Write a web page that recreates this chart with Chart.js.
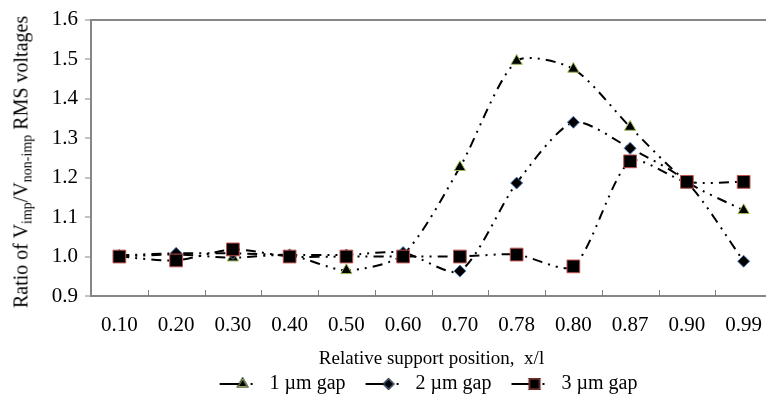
<!DOCTYPE html>
<html>
<head>
<meta charset="utf-8">
<script src="https://cdn.jsdelivr.net/npm/chart.js@4.4.1/dist/chart.umd.min.js"></script>
<style>
  body { margin: 0; background: #fff; overflow: hidden; }
  #wrap { position: relative; width: 782px; height: 404px; }
  #yTitle {
    position: absolute; left: 21px; top: 162px;
    transform: translate(-50%, -50%) rotate(-90deg);
    white-space: nowrap;
    font-family: "Liberation Serif", "Times New Roman", serif;
    font-size: 20px; color: #000;
  }
  #yTitle sub { font-size: 14px; vertical-align: -4px; line-height: 0; }
</style>
</head>
<body>
<div id="wrap">
  <canvas id="chart" width="782" height="404"></canvas>
  <div id="yTitle">Ratio of V<sub>imp</sub>/V<sub>non-imp</sub> RMS voltages</div>
</div>
<script>
const positions = ["0.10", "0.20", "0.30", "0.40", "0.50", "0.60", "0.70", "0.78", "0.80", "0.87", "0.90", "0.99"];
const gap1 = [1.00, 1.005, 0.997, 1.003, 0.965, 1.005, 1.226, 1.495, 1.475, 1.328, 1.19, 1.117];
const gap2 = [1.003, 1.008, 1.008, 1.004, 1.004, 1.01, 0.963, 1.186, 1.34, 1.274, 1.188, 0.988];
const gap3 = [1.00, 0.99, 1.018, 1.00, 1.00, 1.00, 1.00, 1.005, 0.975, 1.241, 1.189, 1.189];
const seriesNames = ["1 \u00b5m gap", "2 \u00b5m gap", "3 \u00b5m gap"];

const SERIF = "'Liberation Serif', 'Times New Roman', serif";
const DASH = [10, 6, 2, 6, 2, 6];

const markers = [
  { style: "triangle", radius: 6.5, edge: "#9bbb59" },
  { style: "rectRot", radius: 6, edge: "#4f81bd" },
  { style: "rect", radius: 9, edge: "#c0504d" },
];

// "line + marker + dot" swatch for the legend, blank on the left for spacing
function legendSwatch(m) {
  const c = document.createElement("canvas");
  c.width = 56; c.height = 16;
  const g = c.getContext("2d");
  const x0 = 16;
  g.strokeStyle = "#000"; g.lineWidth = 2;
  g.beginPath(); g.moveTo(x0, 8); g.lineTo(x0 + 22, 8); g.stroke();
  g.fillStyle = "#000";
  g.fillRect(x0 + 31, 7, 2, 2);
  Chart.helpers.drawPoint(g, { pointStyle: m.style, radius: m.radius * 0.8, borderWidth: 1 }, x0 + 23, 8);
  g.fillStyle = "#000"; g.strokeStyle = m.edge; g.lineWidth = 1;
  g.fill(); g.stroke();
  return c;
}

function makeSet(i, values) {
  const m = markers[i];
  return {
    label: seriesNames[i],
    data: values,
    borderColor: "#000",
    borderWidth: 2,
    borderDash: DASH,
    tension: 0.25,
    pointStyle: m.style,
    pointRadius: m.radius,
    pointBackgroundColor: "#000",
    pointBorderColor: m.edge,
    pointBorderWidth: 1,
    order: 3 - i,
    fill: false,
  };
}

// inward tick marks between categories, like the original
const xTicksInside = {
  id: "xTicksInside",
  afterDraw(chart) {
    const x = chart.scales.x;
    const g = chart.ctx;
    g.save();
    g.strokeStyle = "#808080"; g.lineWidth = 1;
    for (let i = 1; i < positions.length; i++) {
      const px = Math.round((x.getPixelForTick(i - 1) + x.getPixelForTick(i)) / 2) + 0.5;
      g.beginPath();
      g.moveTo(px, x.top);
      g.lineTo(px, x.top - 6);
      g.stroke();
    }
    g.restore();
  },
};

// centre the legend under the plot area instead of the whole canvas
const legendUnderPlot = {
  id: "legendUnderPlot",
  afterLayout(chart) {
    chart.legend.left = chart.chartArea.left - 22;
    chart.legend.right = chart.chartArea.right;
  },
};

const swatches = markers.map(legendSwatch);

new Chart(document.getElementById("chart"), {
  type: "line",
  data: {
    labels: positions,
    datasets: [makeSet(0, gap1), makeSet(1, gap2), makeSet(2, gap3)],
  },
  options: {
    responsive: false,
    animation: false,
    devicePixelRatio: 1,
    layout: { padding: { top: 0, right: 0, bottom: 0, left: 0 } },
    plugins: {
      tooltip: { enabled: false },
      legend: {
        position: "bottom",
        labels: {
          usePointStyle: true,
          pointStyleWidth: 56,
          boxHeight: 16,
          padding: 4,
          color: "#000",
          font: { family: SERIF, size: 20, lineHeight: 1 },
          generateLabels(chart) {
            return chart.data.datasets.map((ds, i) => ({
              text: ds.label,
              pointStyle: swatches[i],
              fillStyle: "#000",
              strokeStyle: "#000",
              lineWidth: 0,
              datasetIndex: i,
              fontColor: "#000",
            }));
          },
        },
      },
    },
    scales: {
      x: {
        offset: true,
        grid: {
          display: true,
          drawOnChartArea: false,
          tickLength: 15,
          color: "rgba(0,0,0,0)",
          tickColor: "rgba(0,0,0,0)",
        },
        border: { display: true, color: "#868686", width: 2 },
        ticks: { color: "#000", padding: 2, maxRotation: 0, font: { family: SERIF, size: 21 } },
        title: {
          display: true,
          text: "Relative support position,  x/l",
          color: "#000",
          font: { family: SERIF, size: 19 },
          padding: { top: 7, bottom: 0 },
        },
      },
      y: {
        min: 0.9,
        max: 1.6,
        afterFit(scale) { scale.width = 91; },
        ticks: {
          stepSize: 0.1,
          color: "#000",
          padding: 7,
          font: { family: SERIF, size: 21 },
          callback: (v) => Number(v).toFixed(1),
        },
        grid: {
          color: (c) => (c.tick && Math.abs(c.tick.value - 1.6) < 1e-6 ? "#868686" : "rgba(0,0,0,0)"),
          lineWidth: 2,
          tickColor: "#868686",
          tickWidth: 1,
          tickLength: 6,
        },
        border: { display: true, color: "#868686", width: 2 },
      },
    },
  },
  plugins: [xTicksInside, legendUnderPlot],
});
</script>
</body>
</html>
